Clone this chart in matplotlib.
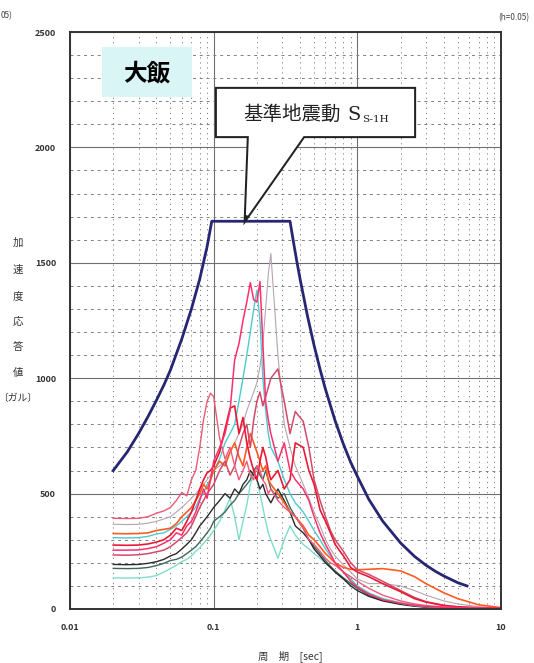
import matplotlib
matplotlib.use("Agg")
import matplotlib.pyplot as plt
from matplotlib.patches import Polygon, Rectangle
from matplotlib.ticker import FixedLocator, NullFormatter

plt.rcParams["font.family"] = ["Noto Sans CJK JP", "DejaVu Sans"]

W, H = 534, 663

# periods (sec) shared by all observed spectra
periods = [0.02, 0.025, 0.03, 0.035, 0.04, 0.045, 0.05, 0.055, 0.06, 0.065,
           0.07, 0.075, 0.08, 0.085, 0.09, 0.095, 0.1, 0.11, 0.12, 0.13,
           0.14, 0.15, 0.16, 0.17, 0.18, 0.19, 0.2, 0.21, 0.22, 0.23,
           0.24, 0.25, 0.28, 0.31, 0.34, 0.37, 0.42, 0.46, 0.5, 0.55,
           0.6, 0.65, 0.7, 0.8, 0.9, 1.0, 1.2, 1.5, 2.0, 2.5,
           3.0, 4.0, 5.0, 7.0, 10.0]

spec_pinkred = [393, 392, 393, 400, 415, 425, 440, 470, 505, 490,
                560, 600, 700, 820, 900, 935, 920, 740, 650, 700,
                620, 560, 600, 640, 580, 560, 620, 600, 560, 540,
                500, 520, 470, 440, 420, 400, 350, 300, 280, 250,
                220, 200, 190, 160, 140, 120, 90, 60, 35, 22,
                15, 9, 6, 4, 2]
spec_hotpink = [255, 255, 256, 262, 270, 285, 300, 330, 320, 360,
                380, 420, 470, 520, 480, 560, 640, 700, 760, 860,
                1080, 1150, 1250, 1330, 1414, 1340, 1330, 1419, 1150, 900,
                820, 760, 640, 720, 600, 560, 520, 470, 400, 330,
                280, 240, 200, 160, 120, 95, 65, 40, 25, 16,
                11, 7, 5, 3, 2]
spec_red = [277, 276, 277, 282, 290, 300, 320, 350, 340, 380,
            420, 470, 520, 560, 590, 600, 620, 680, 780, 870,
            880, 760, 830, 720, 650, 600, 560, 640, 700, 660,
            600, 560, 600, 520, 560, 720, 700, 600, 540, 430,
            380, 330, 280, 230, 180, 160, 140, 110, 75, 45,
            30, 15, 9, 5, 3]
spec_darkpink = [234, 233, 235, 240, 248, 255, 270, 290, 310, 330,
                 360, 400, 440, 470, 500, 520, 540, 600, 640, 580,
                 620, 700, 760, 800, 700, 820, 900, 940, 880, 920,
                 960, 1000, 1040, 900, 760, 856, 813, 700, 560, 470,
                 400, 340, 300, 250, 200, 170, 150, 120, 80, 50,
                 32, 16, 10, 5, 3]
spec_orange = [327, 326, 327, 330, 340, 345, 350, 370, 400, 420,
               440, 470, 500, 540, 520, 560, 600, 640, 620, 680,
               720, 660, 620, 700, 760, 720, 680, 640, 600, 620,
               560, 540, 500, 460, 420, 400, 360, 320, 300, 270,
               240, 220, 200, 180, 172, 170, 172, 175, 165, 140,
               110, 70, 45, 18, 6]
spec_cyan = [309, 308, 309, 315, 325, 330, 345, 360, 380, 400,
             420, 440, 480, 500, 540, 560, 600, 650, 720, 760,
             800, 900, 1000, 1100, 1200, 1300, 1380, 1250, 1000, 860,
             760, 700, 640, 560, 500, 460, 420, 380, 340, 300,
             260, 230, 200, 160, 130, 100, 70, 45, 25, 15,
             10, 6, 4, 3, 2]
spec_gray = [367, 366, 367, 372, 380, 390, 400, 420, 440, 460,
             480, 500, 520, 540, 560, 580, 600, 620, 640, 680,
             720, 760, 800, 860, 900, 940, 980, 1050, 1150, 1300,
             1450, 1540, 1100, 800, 700, 620, 540, 480, 420, 360,
             300, 260, 230, 190, 160, 130, 110, 110, 100, 80,
             60, 35, 22, 10, 4]
spec_black = [193, 192, 193, 198, 205, 215, 230, 240, 260, 280,
              300, 330, 360, 380, 400, 420, 440, 470, 500, 480,
              520, 500, 540, 560, 600, 580, 560, 520, 540, 500,
              480, 460, 520, 470, 420, 360, 330, 300, 260, 230,
              200, 180, 160, 130, 100, 80, 55, 35, 20, 12,
              8, 5, 3, 2, 1]
spec_green = [176, 175, 176, 180, 188, 198, 210, 215, 225, 240,
              255, 270, 290, 310, 330, 350, 380, 400, 420, 450,
              470, 500, 520, 540, 560, 600, 620, 580, 560, 600,
              560, 520, 480, 500, 440, 400, 350, 300, 270, 240,
              210, 185, 165, 135, 110, 90, 60, 38, 22, 14,
              9, 5, 3, 2, 1]
spec_lightcyan = [135, 134, 135, 138, 145, 160, 175, 190, 205, 215,
                  230, 250, 265, 285, 300, 320, 340, 380, 430, 480,
                  400, 300, 380, 450, 540, 580, 560, 500, 440, 380,
                  330, 300, 220, 300, 360, 320, 280, 260, 240, 220,
                  200, 180, 160, 130, 110, 90, 65, 45, 28, 18,
                  12, 7, 4, 2, 1]

observed = [
    (spec_gray, "#b7a3b0", 0.8),
    (spec_lightcyan, "#7fdccb", 1.0),
    (spec_green, "#3d6658", 1.0),
    (spec_black, "#2a2a2a", 1.0),
    (spec_cyan, "#4ccad2", 1.0),
    (spec_orange, "#ff5a22", 1.2),
    (spec_darkpink, "#d24a6a", 1.1),
    (spec_red, "#e81a36", 1.2),
    (spec_pinkred, "#f0587a", 1.0),
    (spec_hotpink, "#ff2f6c", 1.1),
]

# design spectrum Ss-1H
env_periods = [0.02, 0.025, 0.03, 0.035, 0.04, 0.045, 0.05, 0.06, 0.07,
               0.08, 0.09, 0.097, 0.34, 0.36, 0.38, 0.4, 0.45, 0.5, 0.55,
               0.6, 0.7, 0.8, 0.9, 1.0, 1.2, 1.5, 2.0, 2.5, 3.0, 3.5,
               4.0, 5.0, 5.8]
env_values = [600, 680, 760, 835, 905, 970, 1035, 1170, 1300,
              1430, 1570, 1680, 1680, 1587, 1503, 1428, 1269, 1142, 1039,
              952, 816, 714, 635, 575, 476, 381, 286, 228, 190, 163,
              143, 114, 100]

yticks = [0, 500, 1000, 1500, 2000, 2500]
xticks = [0.01, 0.1, 1, 10]
xticklabels = ["0.01", "0.1", "1", "10"]

fig = plt.figure(figsize=(W / 100, H / 100), dpi=100)
ax = fig.add_axes([70 / W, 1 - 609 / H, 431 / W, 577 / H])

ax.set_xscale("log")
ax.set_xlim(0.01, 10)
ax.set_ylim(0, 2500)

# grid: solid majors, dashed/dotted minors
minor_x = [m * 10.0 ** e for e in (-2, -1, 0) for m in range(2, 10)]
ax.xaxis.set_minor_locator(FixedLocator(minor_x))
ax.xaxis.set_minor_formatter(NullFormatter())
ax.yaxis.set_minor_locator(FixedLocator([v for v in range(100, 2500, 100) if v % 500]))
ax.grid(which="major", color="#6f6f6f", lw=0.8)
ax.grid(which="minor", axis="x", color="#808080", lw=0.7, ls=(0, (1.2, 4)))
ax.grid(which="minor", axis="y", color="#808080", lw=0.7, ls=(0, (3, 4)))
ax.set_axisbelow(True)

for vals, col, lw in observed:
    ax.plot(periods, vals, color=col, lw=lw)
ax.plot(env_periods, env_values, color="#262673", lw=2.0)

ax.set_xticks(xticks)
ax.set_xticklabels(xticklabels)
ax.set_yticks(yticks)
ax.tick_params(which="both", length=0, labelsize=6.5, pad=10)
for lab in ax.get_xticklabels() + ax.get_yticklabels():
    lab.set_fontweight("bold")
    lab.set_color("#333333")
for sp in ax.spines.values():
    sp.set_linewidth(1.4)
    sp.set_color("#333333")


def px(x, y):
    return x / W, 1 - y / H


# y label, stacked vertically
for ch, yy in zip("加速度応答値", [243, 270, 296, 322, 347, 373]):
    fig.text(*px(18, yy), ch, fontsize=7.5, ha="center", va="center", color="#333333")
fig.text(*px(18, 398), "〔ガル〕", fontsize=7, ha="center", va="center", color="#333333")

fig.text(*px(290, 656), "周　期　[sec]", fontsize=7.5, ha="center", va="center", color="#333333")
fig.text(*px(1, 16), "05)", fontsize=6, ha="left", va="center", color="#444444")
fig.text(*px(498, 18), "(h=0.05)", fontsize=6, ha="left", va="center", color="#444444")

# site label box
fig.patches.append(Rectangle(px(102, 97), 90 / W, 50 / H, transform=fig.transFigure,
                             facecolor="#d9f5f5", edgecolor="none", zorder=5))
fig.text(*px(147, 73), "大飯", fontsize=17, fontweight="bold", ha="center", va="center",
         zorder=6)

# callout with double border
call = [px(218, 90), px(413, 90), px(413, 135), px(303, 135), px(247, 215),
        px(250, 135), px(218, 135)]
fig.patches.append(Polygon(call, closed=True, transform=fig.transFigure, facecolor="white",
                           edgecolor="#222222", lw=4.5, zorder=7))
fig.patches.append(Polygon(call, closed=True, transform=fig.transFigure, facecolor="white",
                           edgecolor="white", lw=1.6, zorder=8))
fig.text(*px(292, 114), "基準地震動", fontsize=14, ha="center", va="center",
         color="#222222", zorder=9)
fig.text(*px(354, 115), "S", fontsize=14, ha="center", va="center",
         color="#222222", zorder=9, family="DejaVu Serif")
fig.text(*px(362, 120), "S-1H", fontsize=7.5, ha="left", va="center",
         color="#222222", zorder=9, family="DejaVu Serif")

fig.savefig("out.png", dpi=100)
